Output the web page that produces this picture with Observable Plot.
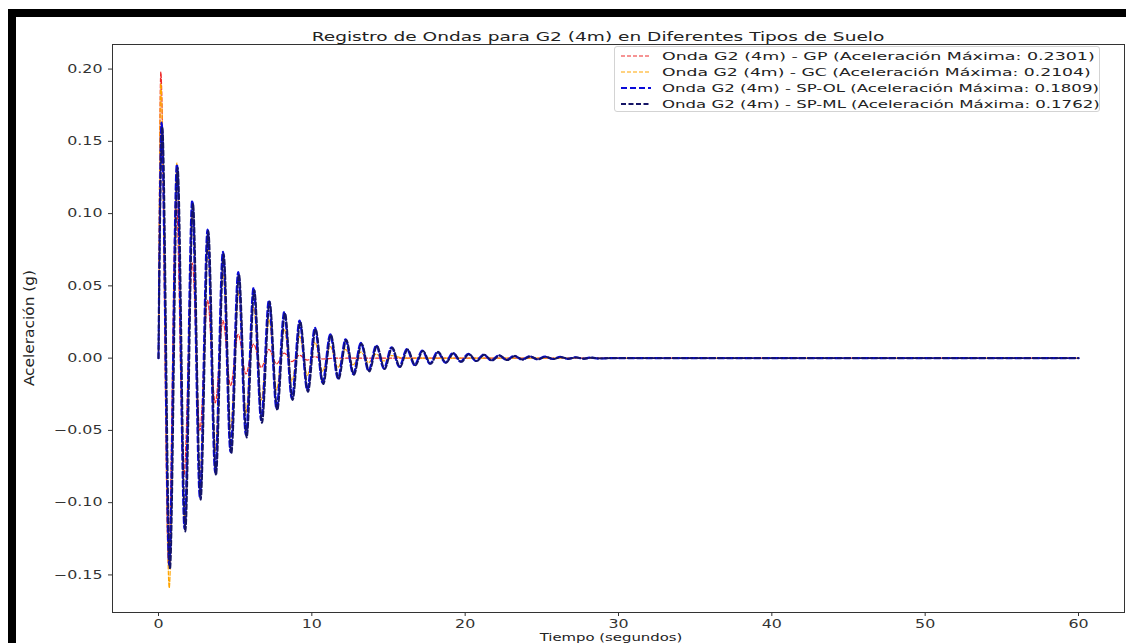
<!DOCTYPE html>
<html><head><meta charset="utf-8">
<script src="https://cdn.jsdelivr.net/npm/d3@7"></script>
<script src="https://cdn.jsdelivr.net/npm/@observablehq/plot@0.6"></script>
<style>
html,body{margin:0;padding:0;background:#fff;}
#wrap{position:relative;width:1126px;height:643px;overflow:hidden;font-family:"DejaVu Sans",sans-serif;color:#222;background:#fff;}
.bar{position:absolute;background:#000;}
.txt{position:absolute;white-space:nowrap;line-height:1;}
#chart{position:absolute;left:0;top:0;}
#legend{position:absolute;border:1px solid #d3d3d3;border-radius:3px;background:rgba(255,255,255,0.85);box-sizing:border-box;}
</style></head><body><div id="wrap"><div id="chart"></div></div>
<script>
// ---- data ----
const titleText = "Registro de Ondas para G2 (4m) en Diferentes Tipos de Suelo";
const xLabel = "Tiempo (segundos)";
const yLabel = "Aceleración (g)";
const seriesNames = ["Onda G2 (4m) - GP (Aceleración Máxima: 0.2301)",
  "Onda G2 (4m) - GC (Aceleración Máxima: 0.2104)",
  "Onda G2 (4m) - SP-OL (Aceleración Máxima: 0.1809)",
  "Onda G2 (4m) - SP-ML (Aceleración Máxima: 0.1762)"];
const xTicks = [0, 10, 20, 30, 40, 50, 60];
const yTicks = [-0.15, -0.10, -0.05, 0.00, 0.05, 0.10, 0.15, 0.20];

const tGP = [0, 0.15, 0.65, 1.15, 1.65, 2.2, 2.7, 3.2, 3.7, 4.2, 4.7, 5.2, 5.7, 6.2, 6.7, 7.2, 7.7, 8.2, 8.7, 9.2, 9.7, 10.2, 10.7, 11.5, 60];
const vGP = [0, 0.198, -0.142, 0.112, -0.082, 0.066, -0.05, 0.040, -0.031, 0.026, -0.019, 0.0165, -0.011, 0.0097, -0.0065, 0.006, -0.004, 0.0035, -0.0024, 0.002, -0.0014, 0.001, -0.0006, 0, 0];

const tGC = [0, 0.15, 0.7, 1.2, 1.7, 2.2, 2.7, 3.2, 3.7, 4.2, 4.7, 5.2, 5.7, 6.2, 6.7, 7.2, 7.7, 8.2, 8.7, 9.2, 9.7, 10.2, 10.7, 11.2, 11.7, 12.2, 12.7, 13.2, 13.7, 14.2, 14.7, 15.2, 16.0, 60];
const vGC = [0, 0.190, -0.159, 0.135, -0.112, 0.100, -0.083, 0.078, -0.064, 0.060, -0.049, 0.046, -0.038, 0.035, -0.029, 0.027, -0.022, 0.020, -0.016, 0.015, -0.012, 0.011, -0.009, 0.008, -0.0065, 0.006, -0.0045, 0.0042, -0.003, 0.0028, -0.002, 0.0018, 0, 0];

const tOL = [0, 0.2, 0.7, 1.2, 1.7, 2.2, 2.7, 3.2, 3.7, 4.2, 4.7, 5.2, 5.7, 6.2, 6.7, 7.2, 7.7, 8.2, 8.7, 9.2, 9.7, 10.2, 10.7, 11.2, 11.7, 12.2, 12.7, 13.2, 13.7, 14.2, 14.7, 15.2, 15.7, 16.2, 16.7, 17.2, 17.7, 18.2, 18.7, 19.2, 19.7, 20.2, 20.7, 21.2, 21.7, 22.2, 22.7, 23.2, 23.7, 24.2, 24.7, 25.2, 25.7, 26.2, 26.7, 27.2, 27.7, 28.2, 28.7, 29.5, 60];
const vOL = [0, 0.163, -0.143, 0.134, -0.118, 0.109, -0.096, 0.089, -0.079, 0.0735, -0.065, 0.0595, -0.053, 0.0486, -0.043, 0.040, -0.035, 0.032, -0.028, 0.026, -0.022, 0.021, -0.017, 0.0165, -0.014, 0.013, -0.011, 0.0105, -0.0088, 0.0088, -0.0072, 0.0075, -0.006, 0.0062, -0.0048, 0.0052, -0.0039, 0.0044, -0.0031, 0.0036, -0.0025, 0.003, -0.002, 0.0025, -0.0016, 0.002, -0.0013, 0.0016, -0.001, 0.0013, -0.0008, 0.001, -0.0006, 0.0008, -0.0005, 0.0006, -0.0004, 0.0004, -0.0003, 0, 0];

const tML = [0, 0.25, 0.75, 1.25, 1.75, 2.25, 2.75, 3.25, 3.75, 4.25, 4.75, 5.25, 5.75, 6.25, 6.75, 7.25, 7.75, 8.25, 8.75, 9.25, 9.75, 10.25, 10.75, 11.25, 11.75, 12.25, 12.75, 13.25, 13.75, 14.25, 14.75, 15.25, 15.75, 16.25, 16.75, 17.25, 17.75, 18.25, 18.75, 19.25, 19.75, 20.25, 20.75, 21.25, 21.75, 22.25, 22.75, 23.25, 23.75, 24.25, 24.75, 25.25, 25.75, 26.25, 26.75, 27.25, 27.75, 28.25, 28.75, 29.5, 60];
const vML = [0, 0.160, -0.146, 0.132, -0.120, 0.107, -0.098, 0.088, -0.081, 0.072, -0.066, 0.058, -0.055, 0.047, -0.0448, 0.039, -0.036, 0.031, -0.029, 0.025, -0.0235, 0.020, -0.018, 0.016, -0.0145, 0.0125, -0.0115, 0.010, -0.0092, 0.0085, -0.0075, 0.0072, -0.0062, 0.006, -0.005, 0.005, -0.004, 0.0042, -0.0032, 0.0034, -0.0026, 0.0028, -0.0021, 0.0023, -0.0017, 0.0019, -0.0014, 0.0015, -0.0011, 0.0012, -0.0009, 0.0009, -0.0007, 0.0007, -0.0005, 0.0005, -0.0004, 0.0003, -0.0002, 0, 0];

// ---- styles ----
const colors = ["#ee2b2b", "#ffa500", "#0a0ad8", "#141466"];
const widths = [1.2, 1.2, 2.2, 1.9];
const dashes = ["4,2", "4,2", "6,3", "5,2.5"];

const toRows = (ts, vs) => ts.map((t, i) => ({t, v: vs[i]}));
const sets = [toRows(tGP, vGP), toRows(tGC, vGC), toRows(tOL, vOL), toRows(tML, vML)];

const W = 1126, H = 643;
const chart = Plot.plot({
  width: W, height: H,
  marginLeft: 112, marginTop: 44, marginRight: 2, marginBottom: 31,
  style: {fontFamily: "DejaVu Sans, sans-serif", fontSize: "11.5px", color: "#333", background: "transparent"},
  x: {domain: [-3, 63]},
  y: {domain: [-0.176, 0.217]},
  marks: [
    ...sets.map((d, i) => Plot.line(d, {x: "t", y: "v", stroke: colors[i], strokeWidth: widths[i], strokeDasharray: dashes[i], curve: "monotone-x"})),
    Plot.frame({stroke: "#333", strokeWidth: 1}),
    Plot.axisX({ticks: xTicks, tickSize: 4, tickPadding: 3, label: null, tickFormat: d3.format("d")}),
    Plot.axisY({ticks: yTicks, tickSize: 4, tickPadding: 6, label: null, tickFormat: d3.format(".2f")})
  ]
});
chart.querySelectorAll('g[aria-label="x-axis tick label"] text, g[aria-label="y-axis tick label"] text')
  .forEach(t => t.setAttribute("transform", (t.getAttribute("transform") || "") + " scale(1.38,1)"));
document.getElementById("chart").appendChild(chart);

const wrap = document.getElementById("wrap");
function bar(l, t, w, h) { const d = document.createElement("div"); d.className = "bar"; Object.assign(d.style, {left: l + "px", top: t + "px", width: w + "px", height: h + "px"}); wrap.appendChild(d); }
bar(8, 9, W - 8, 8);
bar(8, 9, 8, H - 9);

function text(str, size, family) {
  const s = document.createElement("div"); s.className = "txt"; s.textContent = str;
  s.style.fontSize = size + "px"; if (family) s.style.fontFamily = family;
  s.style.left = "0px"; s.style.top = "0px";
  wrap.appendChild(s); return s;
}
function centered(str, size, cx, cy, targetW) {
  const s = text(str, size); const k = targetW / s.offsetWidth;
  s.style.left = cx + "px"; s.style.top = cy + "px";
  s.style.transform = `translate(-50%,-50%) scaleX(${k})`;
}
centered(titleText, 12.5, 598, 37, 573);
centered(xLabel, 10.5, 611, 637, 143);
{
  const s = text(yLabel, 11.5, "'Liberation Sans Narrow', 'DejaVu Sans Condensed', sans-serif");
  const k = 116 / s.offsetWidth;
  s.style.left = "30px"; s.style.top = "328px";
  s.style.transform = `translate(-50%,-50%) scaleX(1.15) rotate(-90deg) scaleX(${k})`;
}
// legend
const lg = document.createElement("div"); lg.id = "legend";
Object.assign(lg.style, {left: "614px", top: "46px", width: "486px", height: "66px"});
wrap.appendChild(lg);
seriesNames.forEach((name, i) => {
  const cy = 56 + i * 16;
  const svgNS = "http://www.w3.org/2000/svg";
  const sv = document.createElementNS(svgNS, "svg");
  sv.setAttribute("width", 30); sv.setAttribute("height", 8);
  Object.assign(sv.style, {position: "absolute", left: "621px", top: (cy - 4) + "px"});
  const ln = document.createElementNS(svgNS, "line");
  ln.setAttribute("x1", 0); ln.setAttribute("x2", 30); ln.setAttribute("y1", 4); ln.setAttribute("y2", 4);
  ln.setAttribute("stroke", colors[i]); ln.setAttribute("stroke-width", widths[i]); ln.setAttribute("stroke-dasharray", dashes[i]);
  sv.appendChild(ln); wrap.appendChild(sv);
  const s = text(name, 10.5);
  const k = [432, 428, 437, 437][i] / s.offsetWidth;
  s.style.left = "662px"; s.style.top = cy + "px";
  s.style.transformOrigin = "0 50%";
  s.style.transform = `translateY(-50%) scaleX(${k})`;
});
</script></body></html>
